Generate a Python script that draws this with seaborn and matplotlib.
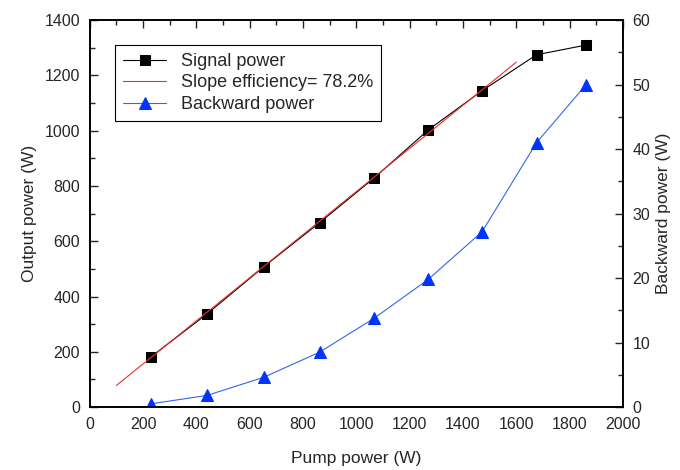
import matplotlib
matplotlib.use("Agg")

import pandas as pd
import matplotlib.pyplot as plt
import seaborn as sns
from matplotlib.ticker import MultipleLocator

# data
pump_power = [230, 440, 652, 862, 1068, 1270, 1472, 1676, 1862]
signal_power = [182, 337, 507, 667, 830, 1003, 1145, 1275, 1310]
backward_power = [0.5, 1.8, 4.6, 8.5, 13.8, 19.8, 27.2, 41.0, 50.0]

slope_x = [100, 1600]
slope_y = [78, 1248]

df = pd.DataFrame({
    "pump": pump_power,
    "signal": signal_power,
    "backward": backward_power
})
fit = pd.DataFrame({"pump": slope_x, "fit": slope_y})

sns.set_style("white")
plt.rcParams["font.family"] = ["Liberation Sans", "DejaVu Sans"]

fig = plt.figure(figsize=(6.8, 4.7), dpi=100)
ax = fig.add_axes([0.132, 0.134, 0.784, 0.823])
ax2 = ax.twinx()

sns.lineplot(
    data=df, x="pump", y="signal", ax=ax,
    color="black", lw=0.8, marker="s", markersize=7,
    markeredgecolor="black", label="Signal power"
)
sns.lineplot(
    data=fit, x="pump", y="fit", ax=ax,
    color="#e8302c", lw=0.8, label="Slope efficiency= 78.2%"
)
sns.lineplot(
    data=df, x="pump", y="backward", ax=ax2,
    color="#3366ee", lw=0.8, marker="^", markersize=8,
    markerfacecolor="#0033ff", markeredgecolor="#0033ff",
    label="Backward power"
)

ax.set_xlim(0, 2000)
ax.set_ylim(0, 1400)
ax2.set_ylim(0, 60)

ax.xaxis.set_major_locator(MultipleLocator(200))
ax.xaxis.set_minor_locator(MultipleLocator(100))
ax.yaxis.set_major_locator(MultipleLocator(200))
ax.yaxis.set_minor_locator(MultipleLocator(100))
ax2.yaxis.set_major_locator(MultipleLocator(10))
ax2.yaxis.set_minor_locator(MultipleLocator(5))

ax.tick_params(which="both", direction="in", top=True, labelsize=11.5,
               width=1, pad=7)
ax.tick_params(which="major", length=6)
ax.tick_params(which="minor", length=3.5)
ax2.tick_params(which="both", direction="in", labelsize=11.5, width=1,
                pad=7)
ax2.tick_params(which="major", length=6)
ax2.tick_params(which="minor", length=3.5)

for a in (ax, ax2):
    for s in a.spines.values():
        s.set_color("black")
        s.set_linewidth(1.2)

ax.set_xlabel("Pump power (W)", fontsize=12.5, labelpad=14)
ax.set_ylabel("Output power (W)", fontsize=12.5, labelpad=5)
ax2.set_ylabel("Backward power (W)", fontsize=12.5, labelpad=4)

h1, l1 = ax.get_legend_handles_labels()
h2, l2 = ax2.get_legend_handles_labels()
ax2.get_legend().remove()
ax.legend(
    h1 + h2, l1 + l2,
    loc="upper left", bbox_to_anchor=(0.03, 0.96),
    fontsize=13, frameon=True, fancybox=False,
    edgecolor="black", framealpha=1, handlelength=2.4,
    labelspacing=0.25, borderpad=0.45
).get_frame().set_linewidth(0.8)

fig.savefig("out.png", dpi=100)
